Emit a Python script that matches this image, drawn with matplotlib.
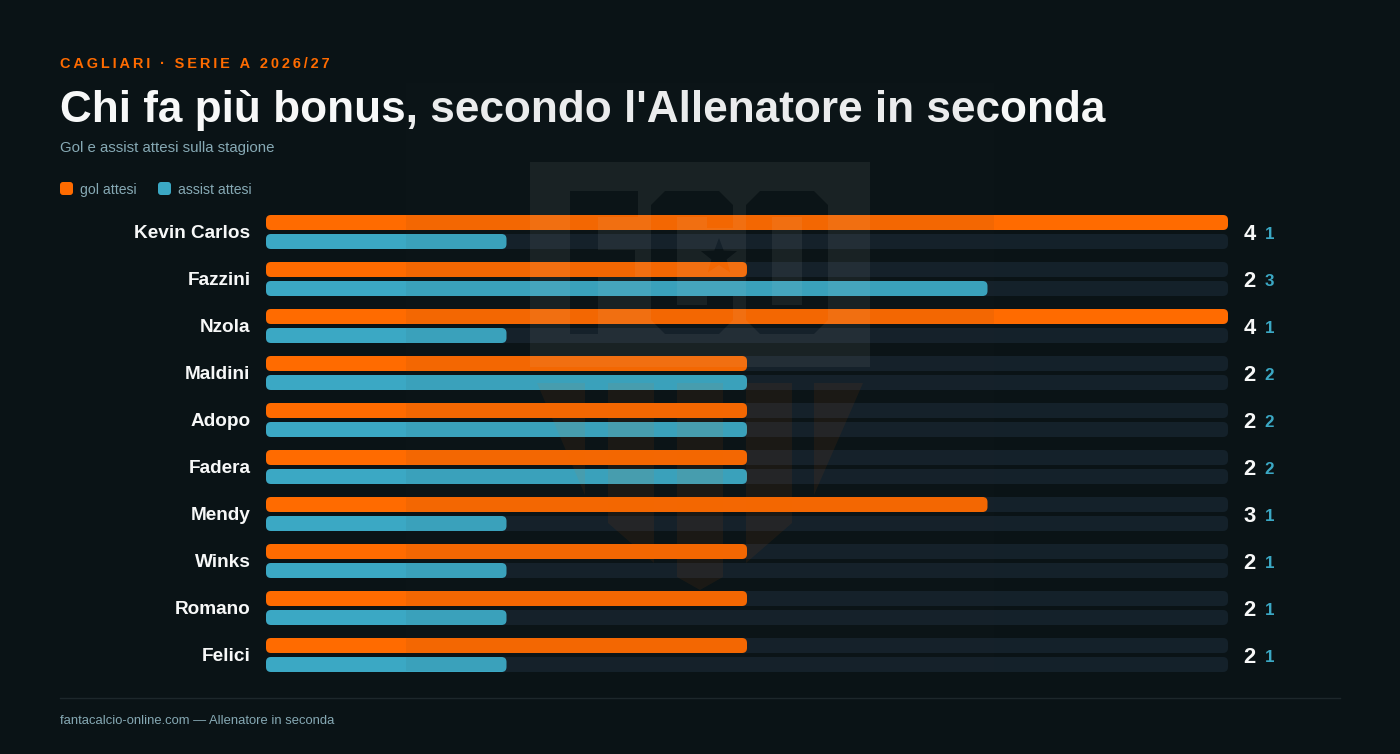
import matplotlib
matplotlib.use("Agg")
import matplotlib.pyplot as plt
from matplotlib.patches import FancyBboxPatch, Rectangle, Polygon, PathPatch
from matplotlib.path import Path
from matplotlib.transforms import ScaledTranslation
import numpy as np

# data
players = ["Kevin Carlos", "Fazzini", "Nzola", "Maldini", "Adopo", "Fadera", "Mendy", "Winks", "Romano", "Felici"]
gol = [4, 2, 4, 2, 2, 2, 3, 2, 2, 2]
assist = [1, 3, 1, 2, 2, 2, 1, 1, 1, 1]
max_value = 4

eyebrow = "CAGLIARI · SERIE A 2026/27"
title = "Chi fa più bonus, secondo l'Allenatore in seconda"
subtitle = "Gol e assist attesi sulla stagione"
footer = "fantacalcio-online.com — Allenatore in seconda"
legend_labels = ["gol attesi", "assist attesi"]

# colors
BG = "#0a1316"
ORANGE = "#ff6b00"
BLUE = "#3ba8c4"
TRACK = "#14212a"
WHITE = "#f7f8f8"
MUTED = "#86a9b4"

plt.rcParams["font.family"] = ["Liberation Sans", "DejaVu Sans"]

W, H = 1400, 754
PX = 0.72  # points per pixel at dpi 100
fig = plt.figure(figsize=(W / 100, H / 100), dpi=100, facecolor=BG)


def px_text(x, y, s, size, color, weight="normal", ha="left"):
    fig.text(x / W, 1 - y / H, s, fontsize=size * PX, color=color, fontweight=weight, ha=ha, va="baseline")


# background layer in pixels: legend swatches and footer line
base = fig.add_axes([0, 0, 1, 1], zorder=0)
base.set_xlim(0, W)
base.set_ylim(H, 0)
base.axis("off")
for x, c in zip([60, 158], [ORANGE, BLUE]):
    base.add_patch(FancyBboxPatch((x, 182), 13, 13, boxstyle="round,pad=0,rounding_size=3", fc=c, ec="none"))
base.plot([60, 1340], [698, 698], color="#1d272b", lw=1)

# bars
left, right, top, bottom = 266, 1228, 215, 672
ax = fig.add_axes([left / W, 1 - bottom / H, (right - left) / W, (bottom - top) / H], zorder=1)
ax.patch.set_alpha(0)
row = 47
bar_h = 15 / row
gap = 2 / row
ax.set_xlim(0, max_value)
ax.set_ylim(len(players) - 1 + 17 / row, -17 / row)
for s in ax.spines.values():
    s.set_visible(False)
ax.set_xticks([])
ax.set_yticks(range(len(players)), players)
ax.tick_params(axis="y", length=0, pad=15.5 * PX)
shift = ScaledTranslation(0, -6 / 100, fig.dpi_scale_trans)
for lab in ax.get_yticklabels():
    lab.set_fontsize(19 * PX)
    lab.set_fontweight("bold")
    lab.set_color(WHITE)
    lab.set_verticalalignment("baseline")
    lab.set_transform(lab.get_transform() + shift)

px_per_x = (right - left) / max_value
radius = 5 / px_per_x
aspect = px_per_x / row


def rounded_bar(y, value, color):
    ax.add_patch(FancyBboxPatch((0, y), value, bar_h, boxstyle=f"round,pad=0,rounding_size={radius}",
                                mutation_aspect=aspect, fc=color, ec="none", clip_on=False))


val_tr = ax.get_yaxis_transform()
for i, (g, a) in enumerate(zip(gol, assist)):
    rounded_bar(i - gap - bar_h, max_value, TRACK)
    rounded_bar(i + gap, max_value, TRACK)
    rounded_bar(i - gap - bar_h, g, ORANGE)
    rounded_bar(i + gap, a, BLUE)
    ax.annotate(str(g), (1, i), xycoords=val_tr, xytext=(15.5 * PX, -8 * PX), textcoords="offset points",
                fontsize=22 * PX, fontweight="bold", color=WHITE, ha="left", va="baseline")
    ax.annotate(str(a), (1, i), xycoords=val_tr, xytext=(36.5 * PX, -7 * PX), textcoords="offset points",
                fontsize=17 * PX, fontweight="bold", color=BLUE, ha="left", va="baseline")

# header and footer text
px_text(60, 68, "\u2009".join(eyebrow), 14.5, ORANGE, "bold")
px_text(60, 122, title, 44.2, WHITE, "bold")
px_text(60, 152, subtitle, 15, MUTED)
px_text(80, 194, legend_labels[0], 14, MUTED)
px_text(178, 194, legend_labels[1], 14, MUTED)
px_text(60, 724, footer, 13, MUTED)

# watermark crest, sits over everything at very low opacity
wm = fig.add_axes([0, 0, 1, 1], zorder=10)
wm.set_xlim(0, W)
wm.set_ylim(H, 0)
wm.axis("off")
wm.patch.set_alpha(0)
wm.add_patch(Rectangle((406, 83), 588, 588, fc="#2a2f30", ec="none", alpha=0.055))


def oriented(points, ccw):
    pts = np.array(points, dtype=float)
    x, y = pts[:, 0], pts[:, 1]
    area = np.sum(x * np.roll(y, -1) - np.roll(x, -1) * y)
    if (area > 0) != ccw:
        pts = pts[::-1]
    return Path(np.vstack([pts, pts[:1]]), closed=True)


def chamfer(x0, y0, x1, y1, c):
    return [(x0 + c, y0), (x1 - c, y0), (x1, y0 + c), (x1, y1 - c), (x1 - c, y1), (x0 + c, y1), (x0, y1 - c), (x0, y0 + c)]


star = []
for k in range(10):
    r = 19 if k % 2 == 0 else 8
    ang = -np.pi / 2 + k * np.pi / 5
    star.append((719 + r * np.cos(ang), 257 + r * np.sin(ang)))

letter_f = [(570, 191), (638, 191), (638, 217), (598, 217), (598, 250), (635, 250), (635, 277), (598, 277), (598, 334), (570, 334)]
c_inner = [(677, 217), (707, 217), (707, 228), (733, 228), (733, 296), (707, 296), (707, 305), (677, 305)]
o_inner = [(772, 217), (802, 217), (802, 305), (772, 305)]
rect = [(530, 162), (870, 162), (870, 367), (530, 367)]

crest = Path.make_compound_path(
    oriented(rect, True),
    oriented(letter_f, False),
    oriented(chamfer(651, 191, 733, 334, 14), False),
    oriented(c_inner, True),
    oriented(star, False),
    oriented(chamfer(746, 191, 828, 334, 14), False),
    oriented(o_inner, True),
)
wm.add_patch(PathPatch(crest, fc="#dddddd", ec="none", alpha=0.07))

stripes = [
    [(537, 383), (585, 383), (585, 495)],
    [(608, 383), (654, 383), (654, 563), (608, 523)],
    [(677, 383), (723, 383), (723, 577), (700, 590), (677, 577)],
    [(746, 383), (792, 383), (792, 523), (746, 563)],
    [(814, 383), (863, 383), (814, 495)],
]
for s in stripes:
    wm.add_patch(Polygon(s, closed=True, fc=ORANGE, ec="none", alpha=0.065))

fig.savefig("out.png", dpi=100, facecolor=BG)
